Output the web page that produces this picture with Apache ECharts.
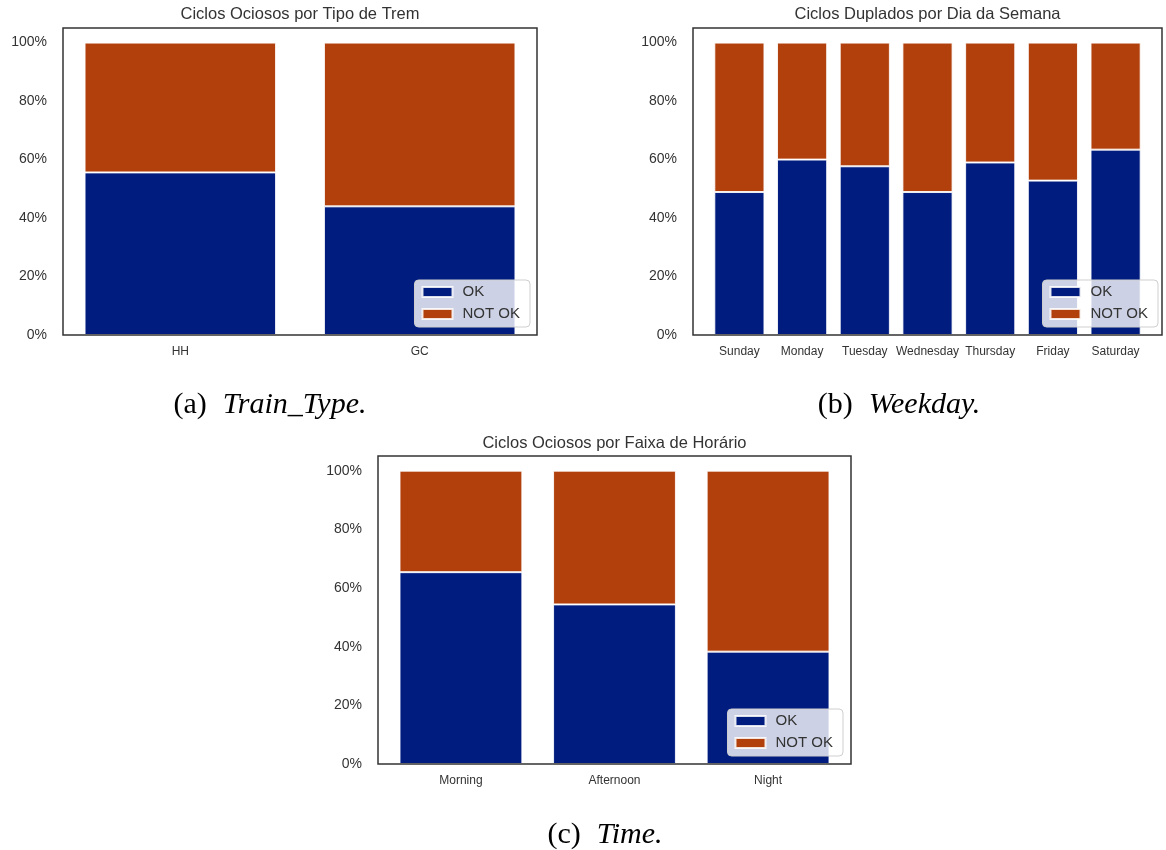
<!DOCTYPE html>
<html lang="en">
<head>
<meta charset="UTF-8" />
<title>ciclos</title>
<script src="https://cdn.jsdelivr.net/npm/echarts@6/dist/echarts.min.js"></script>
<style>
  html, body { margin: 0; padding: 0; background: #fff; }
  #main { width: 1166px; height: 850px; }
</style>
</head>
<body>
<div id="main"></div>
<script>
// data (share of cycles)
const trainTypes = ['HH', 'GC'];
const trainOk = [0.556, 0.440];
const trainNotOk = [0.444, 0.560];

const weekdays = ['Sunday', 'Monday', 'Tuesday', 'Wednesday', 'Thursday', 'Friday', 'Saturday'];
const weekdayOk = [0.489, 0.600, 0.577, 0.489, 0.590, 0.528, 0.634];
const weekdayNotOk = [0.511, 0.400, 0.423, 0.511, 0.410, 0.472, 0.366];

const timeSlots = ['Morning', 'Afternoon', 'Night'];
const timeOk = [0.654, 0.544, 0.383];
const timeNotOk = [0.346, 0.456, 0.617];

const yTicks = [0, 0.2, 0.4, 0.6, 0.8, 1];
const seriesNames = ['OK', 'NOT OK'];

const colors = ['#001c7f', '#b1400d'];
const textColor = '#333';
const sans = '"Liberation Sans", Arial, sans-serif';
const serif = '"Liberation Serif", "Times New Roman", serif';

// frame = the axes box as drawn by matplotlib
const panels = [
  {
    cats: trainTypes, ok: trainOk, notOk: trainNotOk,
    title: 'Ciclos Ociosos por Tipo de Trem', titleY: 14,
    caption: ['(a)', 'Train_Type.'], capX: 270, capY: 405,
    frame: { left: 63, top: 28, width: 474, height: 307 },
    legend: { right: 636, bottom: 523 }
  },
  {
    cats: weekdays, ok: weekdayOk, notOk: weekdayNotOk,
    title: 'Ciclos Duplados por Dia da Semana', titleY: 14,
    caption: ['(b)', 'Weekday.'], capX: 899, capY: 405,
    frame: { left: 693, top: 28, width: 469, height: 307 },
    legend: { right: 8, bottom: 523 }
  },
  {
    cats: timeSlots, ok: timeOk, notOk: timeNotOk,
    title: 'Ciclos Ociosos por Faixa de Horário', titleY: 443,
    caption: ['(c)', 'Time.'], capX: 605, capY: 835,
    frame: { left: 378, top: 456, width: 473, height: 308 },
    legend: { right: 323, bottom: 94 }
  }
];

const grids = [], xAxes = [], yAxes = [], series = [], legends = [], graphics = [];

panels.forEach((p, i) => {
  const n = p.cats.length;
  const f = p.frame;
  // matplotlib x-limits: bars of width 0.8 plus a 5% margin
  const pad = 0.4 + 0.05 * (n - 1 + 0.8);
  const unit = f.width / (n - 1 + 2 * pad);
  const offset = (pad - 0.5) * unit;

  grids.push({ left: f.left + offset, top: f.top, width: n * unit, height: f.height });

  xAxes.push({
    type: 'category', gridIndex: i, data: p.cats,
    axisLine: { show: false }, axisTick: { show: false }, splitLine: { show: false },
    axisLabel: { fontSize: 12, fontFamily: sans, color: textColor, margin: 11, interval: 0 }
  });

  yAxes.push({
    type: 'value', gridIndex: i, min: 0, max: 1.05,
    axisLine: { show: false }, axisTick: { show: false }, splitLine: { show: false },
    axisLabel: {
      customValues: yTicks,
      formatter: v => (v > 1.0001 ? '' : Math.round(v * 100) + '%'),
      fontSize: 14, fontFamily: sans, color: textColor, margin: 16 + offset
    }
  });

  [p.ok, p.notOk].forEach((vals, s) => {
    series.push({
      name: seriesNames[s], type: 'bar',
      xAxisIndex: i, yAxisIndex: i, stack: 'panel' + i,
      barWidth: '80%',
      data: vals,
      itemStyle: { color: colors[s], borderColor: 'rgba(255,255,255,0.85)', borderWidth: 1 }
    });
  });

  legends.push(Object.assign({
    data: seriesNames, orient: 'vertical', icon: 'rect',
    itemWidth: 30, itemHeight: 10, itemGap: 6,
    padding: [4, 10, 5, 7],
    backgroundColor: 'rgba(255,255,255,0.8)', borderColor: '#cfcfcf',
    borderWidth: 1, borderRadius: 4,
    selectedMode: false,
    textStyle: { fontSize: 15, fontFamily: sans, color: textColor, lineHeight: 16, padding: [0, 0, 0, 5] }
  }, p.legend));

  // axes frame
  graphics.push({
    type: 'rect', z: 100, silent: true,
    shape: { x: f.left, y: f.top, width: f.width, height: f.height },
    style: { fill: 'none', stroke: '#333', lineWidth: 1.5 }
  });
  graphics.push({
    type: 'text', x: f.left + f.width / 2, y: p.titleY,
    style: {
      text: p.title, fontSize: 16.5, fontFamily: sans, fill: textColor,
      align: 'center', verticalAlign: 'middle', textAlign: 'center', textVerticalAlign: 'middle'
    }
  });
  graphics.push({
    type: 'text', x: p.capX, y: p.capY,
    style: {
      text: '{n|' + p.caption[0] + '}{i|' + p.caption[1] + '}',
      rich: {
        n: { fontSize: 30, fontFamily: serif, color: '#000', padding: [0, 16, 0, 0] },
        i: { fontSize: 30, fontFamily: serif, fontStyle: 'italic', color: '#000' }
      },
      fill: '#000',
      align: 'center', verticalAlign: 'middle', textAlign: 'center', textVerticalAlign: 'middle'
    }
  });
});

const chart = echarts.init(document.getElementById('main'));
chart.setOption({
  animation: false,
  backgroundColor: '#fff',
  grid: grids,
  xAxis: xAxes,
  yAxis: yAxes,
  legend: legends,
  series: series,
  graphic: graphics
});
</script>
</body>
</html>
